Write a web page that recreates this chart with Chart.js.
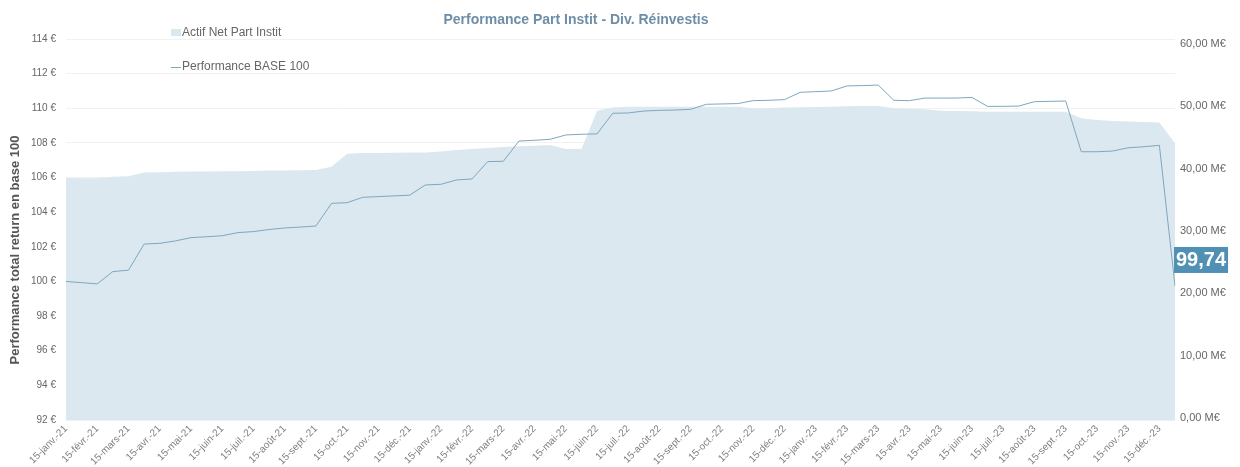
<!DOCTYPE html>
<html>
<head>
<meta charset="utf-8">
<script src="https://cdn.jsdelivr.net/npm/chart.js@4/dist/chart.umd.min.js"></script>
<style>
  html, body { margin: 0; padding: 0; background: #ffffff; }
  #wrap { width: 1240px; height: 467px; position: relative; }
</style>
</head>
<body>
<div id="wrap"><canvas id="c"></canvas></div>
<script>
const chartTitle = "Performance Part Instit - Div. Réinvestis";
const yAxisTitle = "Performance total return en base 100";
const seriesNames = ["Actif Net Part Instit", "Performance BASE 100"];

const categories = [
  "15-janv.-21","31-janv.-21","15-févr.-21","28-févr.-21","15-mars-21","31-mars-21",
  "15-avr.-21","30-avr.-21","15-mai-21","31-mai-21","15-juin-21","30-juin-21",
  "15-juil.-21","31-juil.-21","15-août-21","31-août-21","15-sept.-21","30-sept.-21",
  "15-oct.-21","31-oct.-21","15-nov.-21","30-nov.-21","15-déc.-21","31-déc.-21",
  "15-janv.-22","31-janv.-22","15-févr.-22","28-févr.-22","15-mars-22","31-mars-22",
  "15-avr.-22","30-avr.-22","15-mai-22","31-mai-22","15-juin-22","30-juin-22",
  "15-juil.-22","31-juil.-22","15-août-22","31-août-22","15-sept.-22","30-sept.-22",
  "15-oct.-22","31-oct.-22","15-nov.-22","30-nov.-22","15-déc.-22","31-déc.-22",
  "15-janv.-23","31-janv.-23","15-févr.-23","28-févr.-23","15-mars-23","31-mars-23",
  "15-avr.-23","30-avr.-23","15-mai-23","31-mai-23","15-juin-23","30-juin-23",
  "15-juil.-23","31-juil.-23","15-août-23","31-août-23","15-sept.-23","30-sept.-23",
  "15-oct.-23","31-oct.-23","15-nov.-23","30-nov.-23","15-déc.-23","31-déc.-23"
];

// Actif net (M€), right axis
const actifNet = [
  38.5, 38.47, 38.45, 38.7, 38.8, 39.4, 39.45, 39.5, 39.55, 39.55, 39.6, 39.6,
  39.65, 39.7, 39.7, 39.75, 39.8, 40.3, 42.4, 42.5, 42.5, 42.55, 42.6, 42.6,
  42.75, 43.0, 43.15, 43.3, 43.5, 43.6, 43.7, 43.8, 43.15, 43.15, 49.3, 49.8,
  49.95, 49.95, 49.95, 49.95, 49.95, 49.95, 49.95, 49.95, 49.7, 49.7, 49.8, 49.85,
  49.9, 49.95, 50.0, 50.05, 50.05, 49.7, 49.6, 49.55, 49.3, 49.25, 49.2, 49.15,
  49.15, 49.15, 49.15, 49.15, 49.15, 48.1, 47.8, 47.65, 47.55, 47.5, 47.4, 44.1
];

// Performance base 100 (€), left axis
const performance = [
  100.00, 99.93, 99.86, 100.57, 100.65, 102.16, 102.20, 102.34, 102.53, 102.58, 102.64, 102.82,
  102.88, 103.00, 103.09, 103.14, 103.20, 104.51, 104.55, 104.86, 104.90, 104.94, 104.98, 105.57,
  105.61, 105.86, 105.92, 106.92, 106.94, 108.11, 108.15, 108.21, 108.46, 108.50, 108.52, 109.71,
  109.73, 109.84, 109.88, 109.90, 109.94, 110.23, 110.25, 110.27, 110.44, 110.46, 110.50, 110.92,
  110.96, 111.00, 111.29, 111.31, 111.34, 110.46, 110.44, 110.59, 110.59, 110.59, 110.63, 110.11,
  110.11, 110.13, 110.38, 110.40, 110.42, 107.49, 107.49, 107.53, 107.72, 107.78, 107.86, 99.74
];

const leftTicks = [92, 94, 96, 98, 100, 102, 104, 106, 108, 110, 112, 114];
const rightTicks = [0, 10, 20, 30, 40, 50, 60];

const FONT = "'Liberation Sans', Arial, Helvetica, sans-serif";
const AREA_COLOR = "#dce8f0";
const LINE_COLOR = "#7ea7bd";
const TEXT_COLOR = "#666666";

const titlePlugin = {
  id: 'customTitle',
  afterDraw(chart) {
    const ctx = chart.ctx;
    ctx.save();
    ctx.font = "bold 14px " + FONT;
    ctx.fillStyle = "#6e8ea7";
    ctx.textAlign = "center";
    ctx.textBaseline = "middle";
    ctx.fillText(chartTitle, chart.width / 2 - 44, 20);
    // vertical axis title
    ctx.translate(15, 250);
    ctx.rotate(-Math.PI / 2);
    ctx.font = "bold 13px " + FONT;
    ctx.fillStyle = "#555555";
    ctx.fillText(yAxisTitle, 0, 0);
    ctx.restore();
  }
};

const legendPlugin = {
  id: 'customLegend',
  afterDraw(chart) {
    const ctx = chart.ctx;
    ctx.save();
    ctx.font = "12px " + FONT;
    ctx.textBaseline = "middle";
    ctx.textAlign = "left";
    const x = 171;
    ctx.fillStyle = AREA_COLOR;
    ctx.fillRect(x, 29, 10, 7);
    ctx.fillStyle = TEXT_COLOR;
    ctx.fillText(chart.data.datasets[0].label, x + 11, 33);
    ctx.strokeStyle = LINE_COLOR;
    ctx.lineWidth = 1;
    ctx.beginPath();
    ctx.moveTo(x, 67.5);
    ctx.lineTo(x + 10, 67.5);
    ctx.stroke();
    ctx.fillStyle = TEXT_COLOR;
    ctx.fillText(chart.data.datasets[1].label, x + 11, 67);
    ctx.restore();
  }
};

const lastValuePlugin = {
  id: 'lastValue',
  afterDatasetsDraw(chart) {
    const meta = chart.getDatasetMeta(1);
    const pts = meta.data;
    const p = pts[pts.length - 1];
    const v = chart.data.datasets[1].data[pts.length - 1];
    const txt = v.toFixed(2).replace('.', ',');
    const ctx = chart.ctx;
    ctx.save();
    ctx.font = "bold 20px " + FONT;
    const w = ctx.measureText(txt).width + 4;
    const h = 26;
    const bx = p.x - 1;
    const by = p.y - 13 - h;
    ctx.fillStyle = "#4f90b4";
    ctx.fillRect(bx, by, w, h);
    ctx.fillStyle = "#ffffff";
    ctx.textAlign = "left";
    ctx.textBaseline = "middle";
    ctx.fillText(txt, bx + 2, by + h / 2 + 1);
    ctx.restore();
  }
};

new Chart(document.getElementById('c'), {
  type: 'line',
  data: {
    labels: categories,
    datasets: [
      {
        label: seriesNames[0],
        data: actifNet,
        yAxisID: 'y1',
        fill: 'start',
        backgroundColor: AREA_COLOR,
        borderColor: AREA_COLOR,
        borderWidth: 0,
        pointRadius: 0,
        tension: 0,
        order: 2
      },
      {
        label: seriesNames[1],
        data: performance,
        yAxisID: 'y',
        fill: false,
        borderColor: LINE_COLOR,
        borderWidth: 1,
        pointRadius: 0,
        tension: 0,
        order: 1
      }
    ]
  },
  options: {
    responsive: true,
    maintainAspectRatio: false,
    animation: false,
    layout: { padding: { top: 39, left: 0, right: 0, bottom: 0 } },
    plugins: {
      legend: { display: false },
      title: { display: false },
      tooltip: { enabled: false }
    },
    scales: {
      x: {
        type: 'category',
        offset: false,
        grid: { display: false, drawTicks: false },
        border: { display: false },
        ticks: {
          autoSkip: false,
          maxRotation: 45,
          minRotation: 45,
          padding: 3,
          color: "#808080",
          font: { family: FONT, size: 10 },
          callback: function(val, idx) {
            const l = categories[idx];
            return l.startsWith("15-") ? l : null;
          }
        },
        afterFit(scale) { scale.height = 47; }
      },
      y: {
        position: 'left',
        min: 92,
        max: 114,
        afterBuildTicks(scale) { scale.ticks = leftTicks.map(v => ({ value: v })); },
        grid: { color: "#f1f1f1", drawTicks: false, lineWidth: 1 },
        border: { display: false },
        ticks: {
          padding: 10,
          color: TEXT_COLOR,
          font: { family: FONT, size: 10 },
          callback: v => v + " €"
        },
        title: { display: false },
        afterFit(scale) { scale.width = 66; }
      },
      y1: {
        position: 'right',
        min: -0.3,
        max: 60.8,
        afterBuildTicks(scale) { scale.ticks = rightTicks.map(v => ({ value: v })); },
        grid: { display: false, drawTicks: false },
        border: { display: false },
        ticks: {
          padding: 5,
          color: TEXT_COLOR,
          font: { family: FONT, size: 11 },
          callback: v => v.toFixed(2).replace('.', ',') + " M€"
        },
        afterFit(scale) { scale.width = 65; }
      }
    }
  },
  plugins: [titlePlugin, legendPlugin, lastValuePlugin]
});
</script>
</body>
</html>
